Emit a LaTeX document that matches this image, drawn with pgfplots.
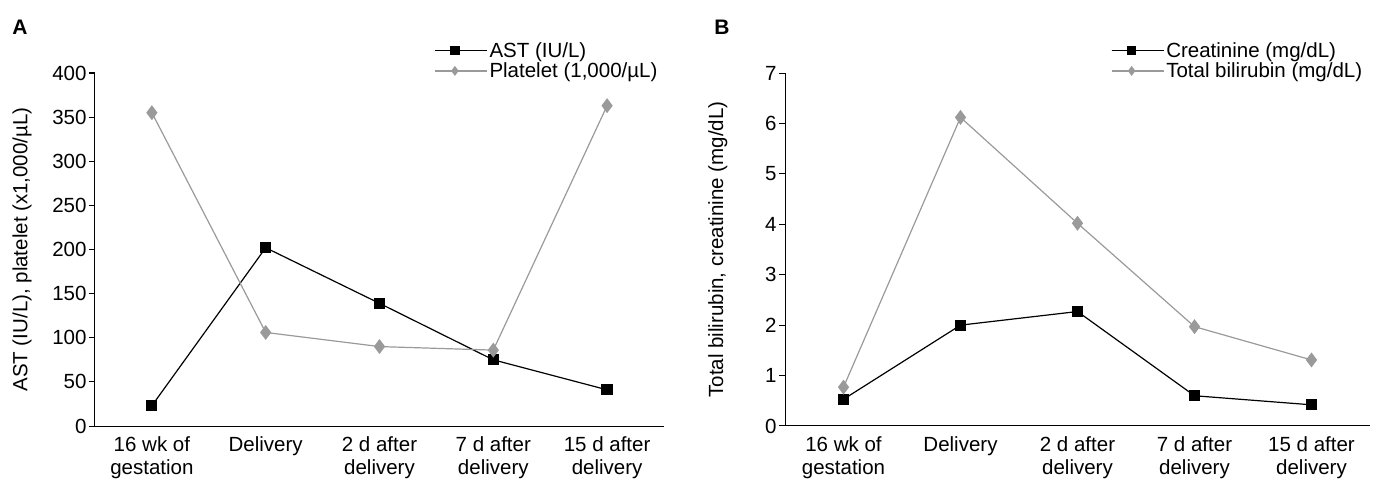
\documentclass[border=0pt]{standalone}
\usepackage{fontspec}
\setmainfont{Liberation Sans}
\usepackage{pgfplots}
\pgfplotsset{compat=1.18}

\definecolor{pltgray}{HTML}{9A9A9A}

\pgfplotsset{
  panel/.style={
    scale only axis,
    width=569pt, height=353pt,
    axis lines=left,
    axis line style={-, line width=1pt},
    xmin=-0.5, xmax=4.5,
    xtick={0,1,2,3,4},
    xticklabels={{16 wk of\\gestation},Delivery,{2 d after\\delivery},{7 d after\\delivery},{15 d after\\delivery}},
    major x tick style={draw=none},
    extra x ticks={-0.5,0.5,1.5,2.5,3.5,4.5},
    extra x tick labels={},
    extra x tick style={major tick length=7pt, tick style={line width=1pt, black}},
    tick align=outside,
    major tick length=6pt,
    tick style={line width=1pt, black},
    ymin=0,
    /pgf/number format/assume math mode=true,
    /pgf/number format/1000 sep={},
    tick label style={font=\fontsize{20.5}{23.5}\selectfont},
    yticklabel style={xshift=1pt},
    x tick label style={align=center, yshift=-1pt},
    ylabel style={font=\fontsize{20.5}{23.5}\selectfont, anchor=center},
    legend style={draw=none, fill=none, font=\fontsize{20.5}{23.5}\selectfont,
      row sep=0pt, inner sep=0pt, nodes={inner sep=2pt}, anchor=north west},
    legend cell align=left,
    legend image code/.code={
      \path (0pt,0pt) -- (52pt,0pt);
      \draw[mark repeat=2, mark phase=2, #1, mark size=4pt]
        plot coordinates {(0pt,0pt) (20pt,0pt) (41pt,0pt)};
    },
    clip=false,
  },
  blk/.style={black, line width=1.2pt, mark=square*, mark size=5pt,
    mark options={solid, fill=black}},
  gry/.style={pltgray, line width=1.2pt, mark=diamond*, mark size=6.5pt,
    mark options={solid, fill=pltgray}},
}

\begin{document}
\begin{tikzpicture}[x=1pt,y=1pt]
\path[use as bounding box] (0,0) rectangle (1382,482);

\node[anchor=center, font=\fontsize{21}{23}\selectfont\bfseries] at (20,455) {A};
\node[anchor=center, font=\fontsize{21}{23}\selectfont\bfseries] at (722,455) {B};

\begin{axis}[panel,
  at={(95pt,56pt)}, anchor=south west,
  width=569pt,
  ymax=400, ytick={0,50,...,400},
  ylabel={AST (IU/L), platelet (x1,000/µL)},
  ylabel style={at={(axis description cs:-0.128,0.5)}},
  legend style={at={(axis description cs:0.596,1.093)}},
]
\addplot[blk] coordinates {(0,23) (1,202) (2,139) (3,75) (4,41)};
\addplot[gry] coordinates {(0,355) (1,106) (2,90) (3,86) (4,363)};
\legend{{AST (IU/L)}, {Platelet (1,000/µL)}}
\end{axis}

\begin{axis}[panel,
  at={(785pt,56pt)}, anchor=south west,
  width=585pt,
  ymax=7, ytick={0,1,...,7},
  ylabel={Total bilirubin, creatinine (mg/dL)},
  ylabel style={at={(axis description cs:-0.115,0.5)}},
  legend style={at={(axis description cs:0.557,1.093)}},
]
\addplot[blk] coordinates {(0,0.53) (1,2.0) (2,2.27) (3,0.6) (4,0.42)};
\addplot[gry] coordinates {(0,0.77) (1,6.12) (2,4.02) (3,1.97) (4,1.31)};
\legend{{Creatinine (mg/dL)}, {Total bilirubin (mg/dL)}}
\end{axis}
\end{tikzpicture}
\end{document}
